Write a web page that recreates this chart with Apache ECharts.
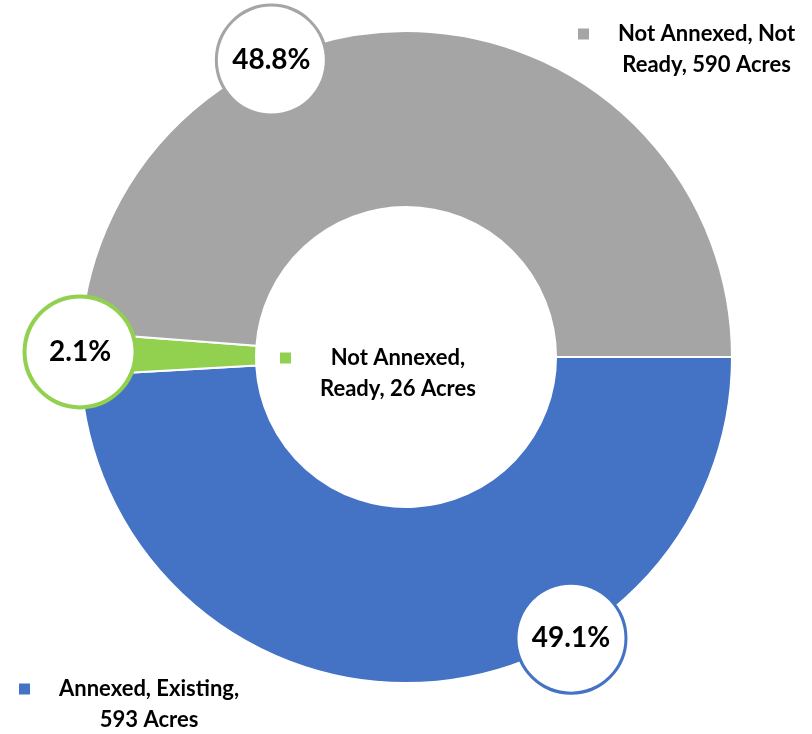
<!DOCTYPE html>
<html>
<head>
<meta charset="utf-8">
<script src="https://cdn.jsdelivr.net/npm/echarts@6/dist/echarts.min.js"></script>
<style>
  html, body { margin: 0; padding: 0; background: #fff; }
  #chart { width: 812px; height: 734px; }
</style>
</head>
<body>
<div id="chart"></div>
<script>
// data
const categories = ['Annexed, Existing', 'Not Annexed, Ready', 'Not Annexed, Not Ready'];
const acres = [593, 26, 590];
const shares = [49.1, 2.1, 48.8]; // percent labels shown on the chart

const colors = ['#4472C4', '#92D050', '#A5A5A5'];
const labelAngles = [59.6, 180.9, 245.6]; // where the callout circles sit, deg clockwise from 3 o'clock
const center = [406, 357];
const radius = [150, 326];
const FONT = 'Lato, "Liberation Sans", sans-serif';

const names = categories.map((c, i) => c + ', ' + acres[i] + ' Acres');

// break a legend name into lines of at most n chars
function wrap(str, n) {
  const words = str.split(' ');
  const lines = [];
  let cur = '';
  words.forEach(w => {
    if (cur && (cur + ' ' + w).length > n) {
      lines.push(cur);
      cur = w;
    } else {
      cur = cur ? cur + ' ' + w : w;
    }
  });
  if (cur) lines.push(cur);
  return lines;
}

const LH = 31;
function makeLegend(idx, left, top) {
  return {
    data: [names[idx]],
    left: left,
    top: top,
    padding: 0,
    icon: 'rect',
    itemWidth: 13,
    itemHeight: 13,
    selectedMode: false,
    formatter: name => wrap(name, 18).map(l => '{t|' + l + '}').join('\n'),
    textStyle: {
      padding: [LH, 0, 0, 23],
      rich: {
        t: {
          fontFamily: FONT,
          fontWeight: 'bold',
          fontSize: 22,
          lineHeight: LH,
          color: '#000',
          align: 'center'
        }
      }
    }
  };
}

const chart = echarts.init(document.getElementById('chart'), null, { renderer: 'canvas' });

const option = {
  animation: false,
  color: colors,
  legend: [
    makeLegend(2, 576, 23),
    makeLegend(1, 278, 347),
    makeLegend(0, 17, 678)
  ],
  series: [
    {
      type: 'pie',
      center: center,
      radius: radius,
      startAngle: 0,
      clockwise: true,
      avoidLabelOverlap: false,
      emphasis: { disabled: true },
      itemStyle: {
        borderColor: '#fff',
        borderWidth: 2
      },
      label: {
        show: true,
        position: 'inside',
        formatter: p => shares[p.dataIndex].toFixed(1) + '%',
        fontFamily: FONT,
        fontWeight: 'bold',
        fontSize: 28,
        color: '#000',
        backgroundColor: '#fff',
        width: 107,
        height: 107,
        lineHeight: 107,
        borderRadius: 54,
        borderWidth: 3,
        align: 'center'
      },
      labelLine: { show: false },
      labelLayout: p => {
        const a = labelAngles[p.dataIndex] * Math.PI / 180;
        return {
          x: center[0] + radius[1] * Math.cos(a),
          y: center[1] + radius[1] * Math.sin(a),
          align: 'center',
          verticalAlign: 'middle'
        };
      },
      data: shares.map((v, i) => ({
        name: names[i],
        value: v,
        label: {
          borderColor: colors[i],
          borderWidth: i === 1 ? 4 : 3
        }
      }))
    }
  ]
};

chart.setOption(option);
</script>
</body>
</html>
